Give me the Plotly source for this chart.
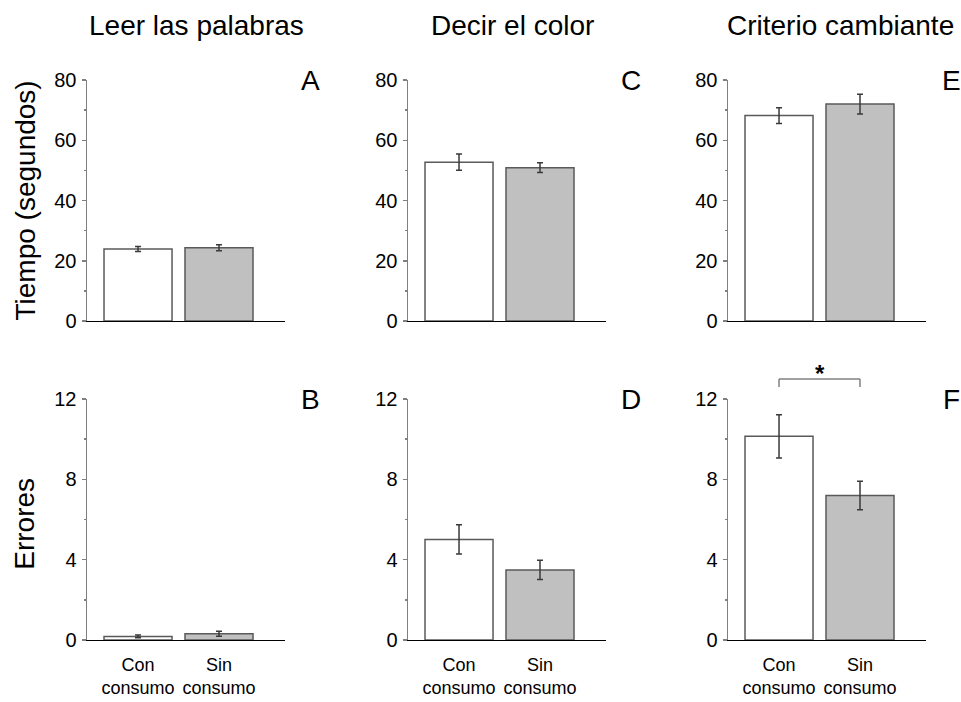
import plotly.graph_objects as go

# ---------------- data ----------------
groups = ["Con<br>consumo", "Sin<br>consumo"]
task_titles = ["Leer las palabras", "Decir el color", "Criterio cambiante"]
panel_letters = ["A", "B", "C", "D", "E", "F"]

tiempo_mean = {"A": [23.9, 24.3], "C": [52.7, 50.9], "E": [68.2, 72.0]}
tiempo_err = {"A": [0.8, 1.0], "C": [2.7, 1.6], "E": [2.6, 3.3]}
errores_mean = {"B": [0.18, 0.31], "D": [5.01, 3.49], "F": [10.14, 7.2]}
errores_err = {"B": [0.07, 0.12], "D": [0.73, 0.48], "F": [1.08, 0.71]}

tiempo_ticks = [0, 20, 40, 60, 80]
errores_ticks = [0, 4, 8, 12]
y_titles = ["Tiempo (segundos)", "Errores"]

bar_colors = ["#ffffff", "#c0c0c0"]

# ---------------- layout geometry ----------------
W, H = 961, 702
col_dom = [(87 / W, 285 / W), (408 / W, 606 / W), (728 / W, 926 / W)]
row_dom = [(1 - 321 / H, 1 - 80 / H), (1 - 640 / H, 1 - 399 / H)]
FONT = "Arial, Liberation Sans, sans-serif"

fig = go.Figure()
layout = dict(
    width=W, height=H,
    margin=dict(l=0, r=0, t=0, b=0, autoexpand=False),
    paper_bgcolor="white", plot_bgcolor="white",
    showlegend=False,
    font=dict(family=FONT, color="black", size=19),
)

annotations = []
shapes = []

idx = 0
for c in range(3):
    for r in range(2):
        idx += 1
        letter = panel_letters[idx - 1]
        xa = "x" if idx == 1 else f"x{idx}"
        ya = "y" if idx == 1 else f"y{idx}"
        if r == 0:
            means, errs, ticks, ymax = tiempo_mean[letter], tiempo_err[letter], tiempo_ticks, 80
            minor_dt = 10
        else:
            means, errs, ticks, ymax = errores_mean[letter], errores_err[letter], errores_ticks, 12
            minor_dt = 2
        fig.add_trace(go.Bar(
            x=[0, 1], y=means,
            width=0.84,
            marker=dict(color=bar_colors, line=dict(color="#5a5a5a", width=1.5)),
            error_y=dict(type="data", array=errs, visible=True,
                         color="#3a3a3a", thickness=1.5, width=3),
            xaxis=xa, yaxis=ya,
            hoverinfo="skip",
        ))
        xkey = "xaxis" if idx == 1 else f"xaxis{idx}"
        ykey = "yaxis" if idx == 1 else f"yaxis{idx}"
        layout[xkey] = dict(
            domain=list(col_dom[c]), anchor=ya,
            range=[-0.63, 1.815],
            tickvals=[0, 1], ticktext=groups,
            showticklabels=(r == 1),
            tickangle=0, automargin=False,
            ticks="", showgrid=False, zeroline=False,
            showline=True, linecolor="black", linewidth=1,
            tickfont=dict(size=18, family=FONT),
            ticklabelstandoff=8,
            fixedrange=True,
        )
        layout[ykey] = dict(
            domain=list(row_dom[r]), anchor=xa,
            range=[0, ymax], automargin=False,
            tickvals=ticks,
            ticks="outside", ticklen=4, tickcolor="#808080", tickwidth=1.5,
            minor=dict(dtick=minor_dt, ticks="outside", ticklen=2,
                       tickcolor="#808080", tickwidth=1.5, showgrid=False),
            showgrid=False, zeroline=False,
            showline=True, linecolor="#808080", linewidth=1.5,
            tickfont=dict(size=20, family=FONT),
            ticklabelstandoff=1,
            fixedrange=True,
        )
        # panel letter
        annotations.append(dict(
            text=letter, xref="paper", yref="paper",
            x=(col_dom[c][1] * W + 25) / W,
            y=(row_dom[r][1] * H) / H,
            xanchor="center", yanchor="middle", showarrow=False,
            font=dict(size=28, family=FONT),
        ))

# column titles
title_x = [196, 512, 840]
for c, t in enumerate(task_titles):
    annotations.append(dict(
        text=t, xref="paper", yref="paper", x=title_x[c] / W, y=1 - 25 / H,
        xanchor="center", yanchor="middle", showarrow=False,
        font=dict(size=28, family=FONT),
    ))

# row (y-axis) titles
for r, t in enumerate(y_titles):
    annotations.append(dict(
        text=t, xref="paper", yref="paper", x=25 / W,
        y=(row_dom[r][0] + row_dom[r][1]) / 2 - (0.006 if r == 1 else -0.0),
        xanchor="center", yanchor="middle", showarrow=False, textangle=-90,
        font=dict(size=28, family=FONT),
    ))

# significance bracket on panel F (Con vs Sin)
bracket_top = 13.0
bracket_end = 12.6
F_max = 12
for (x0, y0, x1, y1) in [(0, bracket_end, 0, bracket_top),
                         (0, bracket_top, 1, bracket_top),
                         (1, bracket_top, 1, bracket_end)]:
    shapes.append(dict(
        type="line", xref="x6", yref="y6 domain",
        x0=x0, x1=x1, y0=y0 / F_max, y1=y1 / F_max,
        line=dict(color="#808080", width=1.5),
    ))
annotations.append(dict(
    text="<b>*</b>", xref="x6", yref="y6 domain", x=0.5, y=bracket_top / F_max,
    xanchor="center", yanchor="bottom", showarrow=False, yshift=-10,
    font=dict(size=24, family=FONT),
))

layout["annotations"] = annotations
layout["shapes"] = shapes
fig.update_layout(**layout)
fig.write_html(
    "out.html",
    config={"displayModeBar": False, "staticPlot": True},
    post_script="document.body.style.margin='0px';document.body.style.padding='0px';",
)
